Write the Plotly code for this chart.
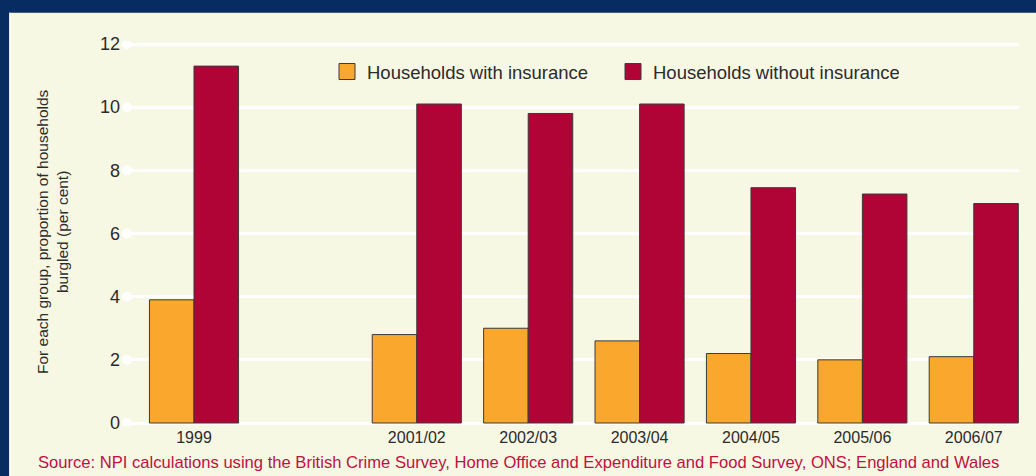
import plotly.graph_objects as go

# ---- data ----
categories = ["1999", "2000", "2001/02", "2002/03", "2003/04", "2004/05", "2005/06", "2006/07"]
tick_labels = ["1999", "", "2001/02", "2002/03", "2003/04", "2004/05", "2005/06", "2006/07"]
with_insurance = [3.9, None, 2.8, 3.0, 2.6, 2.2, 2.0, 2.1]
without_insurance = [11.3, None, 10.1, 9.8, 10.1, 7.45, 7.25, 6.95]
y_ticks = [0, 2, 4, 6, 8, 10, 12]
series_names = ["Households with insurance", "Households without insurance"]

# ---- style ----
ORANGE = "#F9A82D"
CRIMSON = "#B00436"
OUTLINE = "#3a3a3a"
CREAM = "#F7F8E4"
NAVY = "#062C61"
TEXT = "#2b2b2b"
SOURCE = "#C0103E"
FONT = "Liberation Sans, Arial, sans-serif"

W, H = 1036, 476
L, R, T, B = 127, 17, 41, 50
PW, PH = W - L - R, H - T - B


def px_x(px):
    return (px - L) / PW


def px_y(py):
    return (H - B - py) / PH


fig = go.Figure()
colors = [ORANGE, CRIMSON]
for name, vals, col in zip(series_names, [with_insurance, without_insurance], colors):
    fig.add_trace(go.Bar(
        x=categories, y=vals, name=name, showlegend=False,
        marker=dict(color=col, line=dict(color=OUTLINE, width=1)),
        hoverinfo="skip",
    ))
# legend entries with larger square swatches
for name, col in zip(series_names, colors):
    fig.add_trace(go.Scatter(
        x=[None], y=[None], mode="markers", name=name,
        marker=dict(symbol="square", size=18, color=col, line=dict(color=OUTLINE, width=1)),
    ))

shapes = []
# frame: navy top band and left border
shapes.append(dict(type="rect", xref="paper", yref="paper", x0=px_x(0), x1=px_x(W),
                   y0=px_y(12.7), y1=px_y(0), fillcolor=NAVY, line=dict(width=0), layer="above"))
shapes.append(dict(type="rect", xref="paper", yref="paper", x0=px_x(0), x1=px_x(9.3),
                   y0=px_y(H), y1=px_y(0), fillcolor=NAVY, line=dict(width=0), layer="above"))
shapes.append(dict(type="rect", xref="paper", yref="paper", x0=px_x(9.3), x1=px_x(10.8),
                   y0=px_y(H), y1=px_y(12.7), fillcolor="#ffffff", line=dict(width=0), layer="above"))
# white dots at gridline starts
for v in y_ticks:
    shapes.append(dict(type="circle", xref="paper", yref="y",
                       xsizemode="pixel", ysizemode="pixel", xanchor=0, yanchor=v,
                       x0=-5, x1=5, y0=-5, y1=5,
                       fillcolor="#ffffff", line=dict(width=0), layer="below"))

fig.update_layout(
    width=W, height=H,
    margin=dict(l=L, r=R, t=T, b=B),
    paper_bgcolor=CREAM, plot_bgcolor=CREAM,
    barmode="group", bargap=0.2, bargroupgap=0,
    font=dict(family=FONT, color=TEXT),
    showlegend=True,
    legend=dict(orientation="h", x=px_x(327), y=px_y(72), xanchor="left", yanchor="middle",
                bgcolor="rgba(0,0,0,0)", font=dict(size=18.5, color=TEXT),
                itemsizing="trace", entrywidth=241, entrywidthmode="pixels"),
    xaxis=dict(type="category", categoryorder="array", categoryarray=categories,
               tickvals=categories, ticktext=tick_labels,
               range=[-0.6014, 7.406], showgrid=False, zeroline=False, showline=False,
               ticks="", tickfont=dict(size=16, color=TEXT), fixedrange=True),
    yaxis=dict(range=[-0.095, 12.095], tickvals=y_ticks, ticktext=[str(v) for v in y_ticks],
               showgrid=True, gridcolor="#ffffff", gridwidth=3, zeroline=False, showline=False,
               ticks="", tickfont=dict(size=18, color=TEXT), ticklabelstandoff=6, fixedrange=True),
    shapes=shapes,
    annotations=[
        dict(text="For each group, proportion of households<br>burgled (per cent)",
             xref="paper", yref="paper", x=px_x(52), y=px_y(232), xanchor="center", yanchor="middle",
             textangle=-90, showarrow=False, font=dict(size=15.5, color=TEXT)),
        dict(text="Source: NPI calculations using the British Crime Survey, Home Office and Expenditure and Food Survey, ONS; England and Wales",
             xref="paper", yref="paper", x=px_x(36), y=px_y(463), xanchor="left", yanchor="middle",
             showarrow=False, font=dict(size=16.6, color=SOURCE)),
    ],
)

fig.write_html("out.html", config={"displayModeBar": False},
               post_script="document.body.style.margin='0px';")
